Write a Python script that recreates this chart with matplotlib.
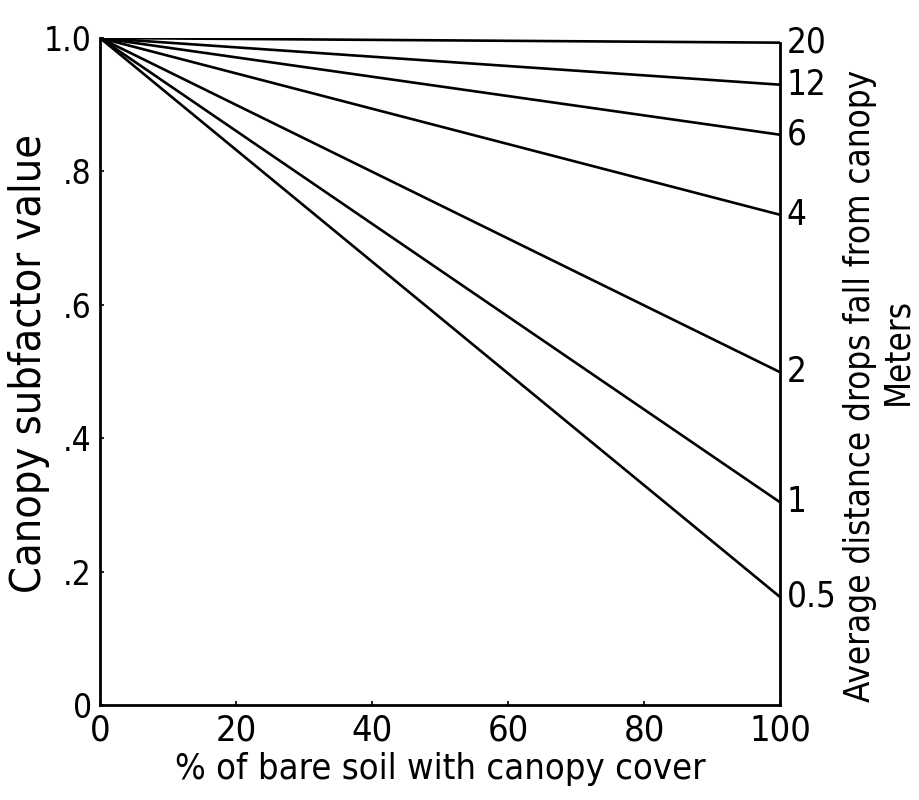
import matplotlib.pyplot as plt

# Canopy subfactor vs. canopy cover, one line per drop-fall height
cover = [0, 100]
fall_heights = ['20', '12', '6', '4', '2', '1', '0.5']
end_values = [0.993, 0.930, 0.855, 0.735, 0.499, 0.304, 0.162]
start_value = 1.0

x_ticks = [0, 20, 40, 60, 80, 100]
y_ticks = [0, 0.2, 0.4, 0.6, 0.8, 1.0]
y_labels = ['0', '.2', '.4', '.6', '.8', '1.0']

plt.rcParams['font.family'] = ['DejaVu Sans']
plt.rcParams['font.stretch'] = 'condensed'

fig = plt.figure(figsize=(9.2, 8), dpi=100)
ax = fig.add_axes([0.1087, 0.11875, 0.7391, 0.83375])

for end in end_values:
    ax.plot(cover, [start_value, end], '-', color='black', lw=1.9,
            solid_capstyle='butt')

ax.set_xlim(0, 100)
ax.set_ylim(0, 1.0)

ax.spines['top'].set_visible(False)
for side in ('left', 'bottom', 'right'):
    ax.spines[side].set_linewidth(2.0)
ax.spines['right'].set_bounds(0, end_values[0])

ax.set_xticks(x_ticks)
ax.set_xticklabels([str(v) for v in x_ticks])
ax.set_yticks(y_ticks)
ax.set_yticklabels(y_labels)
ax.tick_params(direction='in', length=3, width=1.2, pad=6)
ax.tick_params(axis='x', labelsize=26)
ax.tick_params(axis='y', labelsize=24)

# fall-height labels at the right end of each line
for lab, end in zip(fall_heights, end_values):
    ax.text(101, end, lab, ha='left', va='center', fontsize=25,
            clip_on=False)

ax.set_xlabel('% of bare soil with canopy cover', fontsize=26, labelpad=3)

fig.text(0.032, 0.546, 'Canopy subfactor value', rotation=90,
         ha='center', va='center', fontsize=31)
fig.text(0.935, 0.517, 'Average distance drops fall from canopy',
         rotation=90, ha='center', va='center', fontsize=25)
fig.text(0.975, 0.56, 'Meters', rotation=90, ha='center', va='center',
         fontsize=25)

fig.savefig('out.png', dpi=100, facecolor='white')
